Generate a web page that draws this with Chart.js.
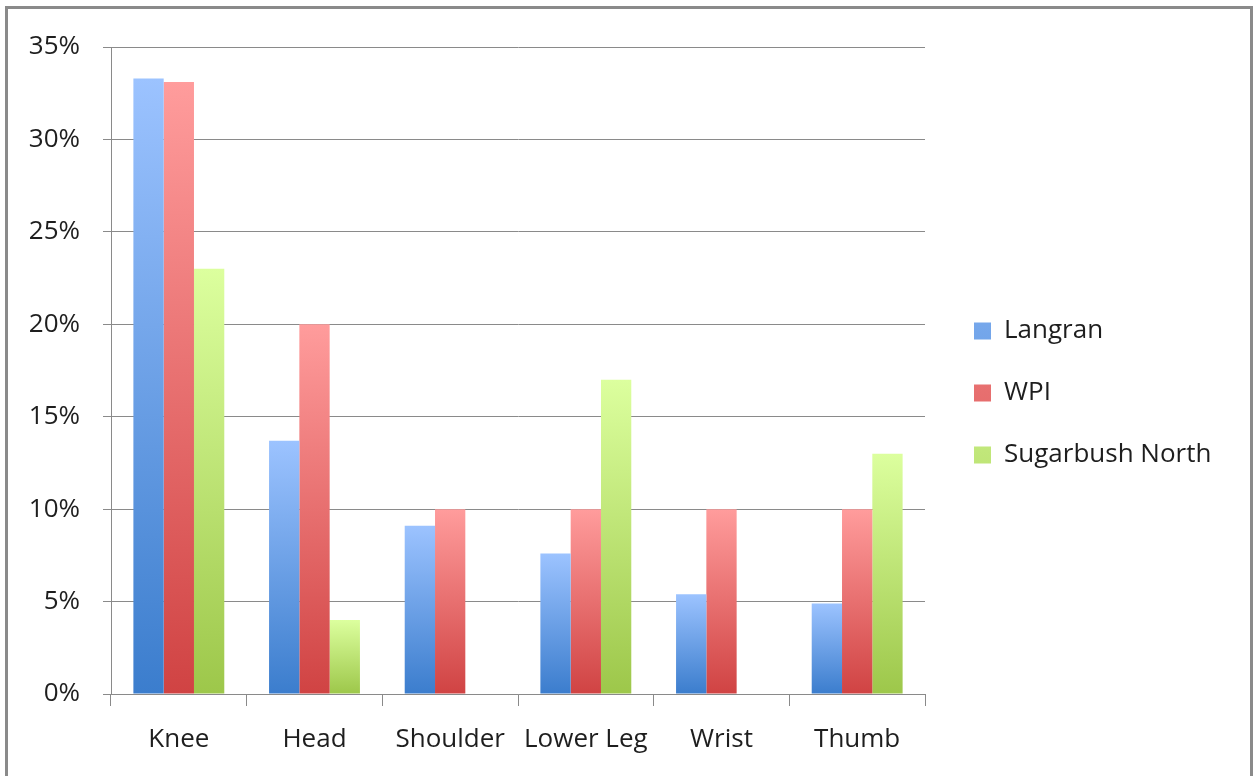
<!DOCTYPE html>
<html>
<head>
<meta charset="utf-8">
<script src="https://cdn.jsdelivr.net/npm/chart.js@4.4.1/dist/chart.umd.min.js"></script>
<style>
  html, body { margin: 0; padding: 0; background: #fff; overflow: hidden; }
  #frame {
    position: absolute; left: 5px; top: 6px; width: 1248px; height: 800px;
    box-sizing: border-box; border: 3px solid #8a8a8a; border-bottom: none;
  }
  #wrap { position: absolute; left: 0; top: 0; width: 1253px; height: 776px; }
</style>
</head>
<body>
<div id="frame"></div>
<div id="wrap"><canvas id="injuryChart"></canvas></div>
<script>
const categories = ["Knee", "Head", "Shoulder", "Lower Leg", "Wrist", "Thumb"];
const langran = [33.3, 13.7, 9.1, 7.6, 5.4, 4.9];
const wpi = [33.1, 20, 10, 10, 10, 10];
const sugarbush = [23, 4, 0, 17, 0, 13];
const seriesNames = ["Langran", "WPI", "Sugarbush North"];

const topColors = ["#9cc3ff", "#ff9c9c", "#dcff9e"];
const bottomColors = ["#3b7dcd", "#d04343", "#9dc74a"];
const gridColor = "#8a8a8a";
const legendRows = [331, 393, 455]; // text centers of the legend rows
const LEG_FONT = 26;
const LEG_PAD = 36;

Chart.defaults.font.family = "'Open Sans', sans-serif";
Chart.defaults.font.size = 26;
Chart.defaults.color = "#1e1e1e";

// each bar gets its own light-to-dark gradient
function barFill(c) {
  const i = c.datasetIndex;
  const ctx = c.chart.ctx;
  let y0, y1;
  if (c.type === "data") {
    const y = c.chart.scales.y;
    if (!y) return bottomColors[i];
    y0 = y.getPixelForValue(c.raw);
    y1 = y.getPixelForValue(0);
  } else {
    y0 = legendRows[i] - 9;
    y1 = legendRows[i] + 9;
  }
  if (!(y1 > y0)) return bottomColors[i];
  const g = ctx.createLinearGradient(0, y0, 0, y1);
  g.addColorStop(0, topColors[i]);
  g.addColorStop(1, bottomColors[i]);
  return g;
}

// move the legend block to where it sits in the original
const placeLegend = {
  id: "placeLegend",
  afterLayout(chart) {
    const lg = chart.legend;
    if (!lg || !lg.columnSizes) return;
    lg.left = 974 - LEG_PAD;
    lg.right = chart.width;
    lg.width = lg.right - lg.left;
    const cur = (lg.top + LEG_PAD + lg.bottom - lg.columnSizes[0].height) / 2;
    const d = (legendRows[0] - LEG_FONT / 2) - cur;
    lg.top += d;
    lg.bottom += d;
  }
};

const ctx = document.getElementById("injuryChart");
const chart = new Chart(ctx, {
  type: "bar",
  data: {
    labels: categories,
    datasets: [
      { label: seriesNames[0], data: langran, backgroundColor: barFill },
      { label: seriesNames[1], data: wpi, backgroundColor: barFill },
      { label: seriesNames[2], data: sugarbush, backgroundColor: barFill },
    ],
  },
  options: {
    responsive: true,
    maintainAspectRatio: false,
    animation: false,
    categoryPercentage: 0.67,
    barPercentage: 1.0,
    layout: {
      padding: { left: 0, top: 47, right: 68, bottom: 0 },
    },
    scales: {
      x: {
        grid: { drawOnChartArea: false, tickLength: 12, color: gridColor, offset: true },
        border: { color: gridColor },
        ticks: { padding: 18, maxRotation: 0, autoSkip: false },
        afterFit: (s) => { s.height = 82; },
      },
      y: {
        min: 0,
        max: 35,
        grid: { color: gridColor, tickLength: 8 },
        border: { color: gridColor },
        ticks: {
          stepSize: 5,
          padding: 23,
          callback: (v) => v + "%",
        },
        afterFit: (s) => { s.width = 111; },
      },
    },
    plugins: {
      tooltip: { enabled: false },
      legend: {
        position: "right",
        maxWidth: 260,
        labels: {
          boxWidth: 17,
          boxHeight: 17,
          padding: LEG_PAD,
          font: { size: LEG_FONT },
          color: "#1e1e1e",
        },
      },
    },
  },
  plugins: [placeLegend],
});
</script>
</body>
</html>
